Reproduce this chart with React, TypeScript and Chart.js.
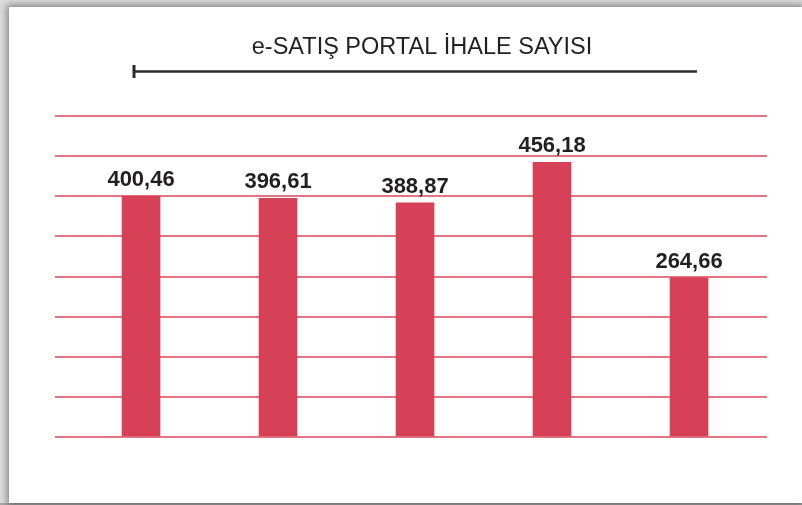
import React, { useEffect, useRef } from "react";
import { Chart, registerables } from "chart.js";

Chart.register(...registerables);

const TITLE = "e-SATIŞ PORTAL İHALE SAYISI";
const categories = ["1", "2", "3", "4", "5"];
const values = [400.46, 396.61, 388.87, 456.18, 264.66];
const Y_MAX = 533.33;
const GRID_STEPS = 8;

const BAR_COLOR = "#d64157";
const GRID_COLOR = "#e27483";
const TEXT_COLOR = "#231f20";

const titlePlugin = {
  id: "titleRule",
  afterDraw(chart: any) {
    const ctx = chart.ctx;
    ctx.save();
    ctx.fillStyle = TEXT_COLOR;
    ctx.font = '23.5px "Liberation Sans", Arial, sans-serif';
    ctx.textAlign = "center";
    ctx.textBaseline = "alphabetic";
    ctx.fillText(TITLE, 422, 54);
    ctx.strokeStyle = "#2b2b2b";
    ctx.lineWidth = 2.5;
    ctx.beginPath();
    ctx.moveTo(133, 71.5);
    ctx.lineTo(697, 71.5);
    ctx.stroke();
    ctx.lineWidth = 3;
    ctx.beginPath();
    ctx.moveTo(134, 65);
    ctx.lineTo(134, 78);
    ctx.stroke();
    ctx.restore();
  },
};

const valueLabels = {
  id: "valueLabels",
  afterDatasetsDraw(chart: any) {
    const ctx = chart.ctx;
    const meta = chart.getDatasetMeta(0);
    ctx.save();
    ctx.fillStyle = TEXT_COLOR;
    ctx.font = 'bold 22px "Liberation Sans", Arial, sans-serif';
    ctx.textAlign = "center";
    ctx.textBaseline = "alphabetic";
    meta.data.forEach((bar: any, i: number) => {
      const txt = values[i].toFixed(2).replace(".", ",");
      ctx.fillText(txt, bar.x, bar.y - 10);
    });
    ctx.restore();
  },
};

export default function App() {
  const ref = useRef<HTMLCanvasElement>(null);
  useEffect(() => {
    if (!ref.current) return;
    const chart = new Chart(ref.current, {
      type: "bar",
      data: {
        labels: categories,
        datasets: [
          {
            data: values.map((v, i) => ({ x: i, y: v })),
            backgroundColor: BAR_COLOR,
            barThickness: 38,
            borderWidth: 0,
          },
        ],
      },
      options: {
        animation: false,
        responsive: false,
        layout: { padding: { left: 55, right: 35, top: 116, bottom: 68 } },
        plugins: { legend: { display: false }, title: { display: false }, tooltip: { enabled: false } },
        scales: {
          x: {
            type: "linear",
            min: -0.628,
            max: 4.569,
            display: false,
            offset: false,
          },
          y: {
            min: 0,
            max: Y_MAX,
            afterBuildTicks: (axis: any) => {
              axis.ticks = Array.from({ length: GRID_STEPS + 1 }, (_, i) => ({
                value: (Y_MAX / GRID_STEPS) * i,
              }));
            },
            ticks: { display: false },
            border: { display: false },
            grid: { color: GRID_COLOR, lineWidth: 2, drawTicks: false },
          },
        },
      } as any,
      plugins: [titlePlugin, valueLabels],
    });
    return () => chart.destroy();
  }, []);

  return (
    <div
      style={{
        position: "fixed",
        left: 0,
        top: 0,
        width: 802,
        height: 505,
        background: "#dcdcdc",
        overflow: "hidden",
      }}
    >
      <div
        style={{
          position: "absolute",
          left: 0,
          top: 503,
          width: 802,
          height: 2,
          background: "#a8a8a8",
        }}
      />
      <div
        style={{
          position: "absolute",
          left: 9,
          top: 7,
          width: 793,
          height: 496,
          background: "#ffffff",
          boxShadow: "0 0 7px 2px rgba(0,0,0,0.42)",
        }}
      />
      <canvas
        ref={ref}
        width={802}
        height={505}
        style={{ position: "absolute", left: 0, top: 0, display: "block" }}
      />
    </div>
  );
}
